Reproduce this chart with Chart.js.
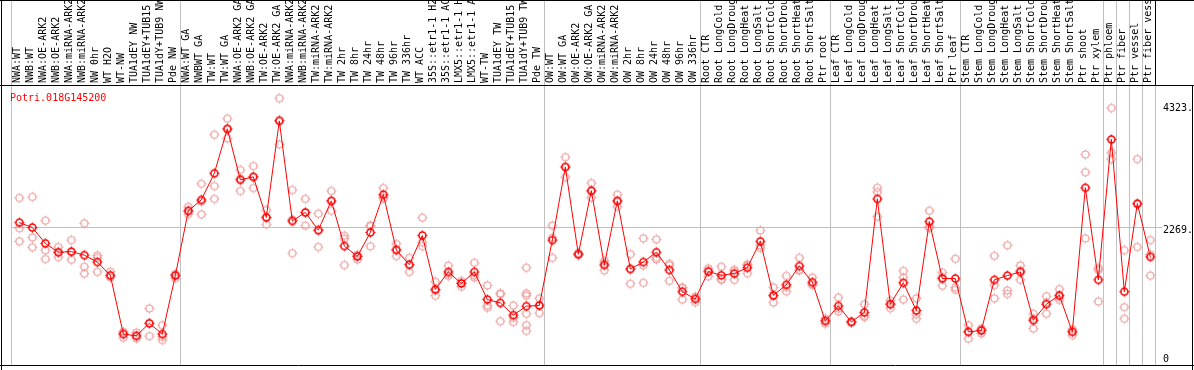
<!DOCTYPE html>
<html>
<head>
<meta charset="utf-8">
<script src="https://cdn.jsdelivr.net/npm/chart.js@4/dist/chart.umd.min.js"></script>
<style>
  html, body { margin: 0; padding: 0; background: #ffffff; }
  #wrap { width: 1194px; height: 370px; }
  canvas { display: block; }
</style>
</head>
<body>
<div id="wrap"><canvas id="c" width="1194" height="370"></canvas></div>
<script>
const geneTitle = 'Potri.018G145200';

const categories = [
  'NWA:WT','NWB:WT','NWA:OE-ARK2','NWB:OE-ARK2','NWA:miRNA-ARK2','NWB:miRNA-ARK2','NW 0hr','WT H2O','WT-NW',
  'TUA1dEY NW','TUA1dEY+TUB15 NW','TUA1dY+TUB9 NW','Pde NW',
  'NWA:WT GA','NWBWT GA','TW:WT','TW:WT GA','NWA:OE-ARK2 GA','NWB:OE-ARK2 GA','TW:OE-ARK2','TW:OE-ARK2 GA',
  'NWA:miRNA-ARK2 GA','NWB:miRNA-ARK2 GA','TW:miRNA-ARK2','TW:miRNA-ARK2 GA','TW 2hr','TW 8hr','TW 24hr','TW 48hr',
  'TW 96hr','TW 336hr','WT ACC','35S::etr1-1 H2O','35S::etr1-1 ACC','LMX5::etr1-1 H2O','LMX5::etr1-1 ACC','WT-TW',
  'TUA1dEY TW','TUA1dEY+TUB15 TW','TUA1dY+TUB9 TW','Pde TW',
  'OW:WT','OW:WT GA','OW:OE-ARK2','OW:OE-ARK2 GA','OW:miRNA-ARK2','OW:miRNA-ARK2 GA','OW 2hr','OW 8hr','OW 24hr',
  'OW 48hr','OW 96hr','OW 336hr',
  'Root CTR','Root LongCold','Root LongDrought','Root LongHeat','Root LongSalt','Root ShortCold','Root ShortDrought',
  'Root ShortHeat','Root ShortSalt','Ptr root',
  'Leaf CTR','Leaf LongCold','Leaf LongDrought','Leaf LongHeat','Leaf LongSalt','Leaf ShortCold','Leaf ShortDrought',
  'Leaf ShortHeat','Leaf ShortSalt','Ptr leaf',
  'Stem CTR','Stem LongCold','Stem LongDrought','Stem LongHeat','Stem LongSalt','Stem ShortCold','Stem ShortDrought',
  'Stem ShortHeat','Stem ShortSalt','Ptr shoot','Ptr xylem',
  'Ptr phloem','Ptr fiber','Ptr vessel','Ptr fiber vessel'
];

const groupSizes = [13, 28, 12, 10, 10, 11, 1, 1, 1, 1];

const meanValues = [
  2396,2313,2047,1898,1908,1848,1732,1510,520,492,702,520,1504,
  2595,2778,3226,3974,3115,3165,2484,4107,2423,2567,2268,2761,2002,1825,2230,2866,1936,1687,2180,1272,1566,1372,1566,1101,1045,840,990,1001,
  2102,3331,1865,2933,1682,2761,1616,1732,1898,1599,1234,1111,
  1571,1510,1538,1637,2081,1172,1350,1665,1393,741,
  995,724,885,2795,1023,1383,918,2413,1455,1455,
  558,580,1433,1504,1566,752,1023,1172,558,2982,1433,
  3796,1234,2717,1820
];

const rep1 = [
  2811,2828,2429,1986,2102,2384,1842,1571,558,546,951,669,1527,
  2662,3049,3874,4145,3281,3348,2606,4489,2944,2795,2545,2928,2174,1848,2346,2977,2036,1803,2479,1400,1671,1416,1720,1338,1205,1001,1637,1122,
  2346,3497,1886,3061,1749,2866,1865,2131,2114,1704,1300,1151,
  1626,1654,1599,1676,2263,1305,1499,1803,1471,779,
  1134,735,1023,2982,1084,1582,1122,2595,1554,1787,
  669,613,1837,2014,1676,862,1156,1277,602,3542,1599,
  4323,1931,3464,2102
];
const rep2 = [
  2301,2147,1931,1893,1900,1654,1803,1483,458,447,702,475,1460,
  2539,2534,3011,3813,2928,2977,2368,3713,1881,2346,1986,2595,2124,1775,1997,2800,1832,1566,1997,1167,1499,1317,1471,1001,736,724,1205,873,
  2141,3160,1848,2817,1593,2662,1367,1676,1775,1416,1101,1056,
  1493,1443,1433,1543,1969,1051,1239,1599,1360,696,
  902,713,807,2911,956,1471,779,2330,1333,1305,
  442,530,1344,1255,1433,613,862,1095,503,3243,1068,
  3569,973,1986,1858
];
const rep3 = [
  2081,1981,1782,1815,1770,1537,1566,1476,545,483,486,420,1525,
  2585,2751,2795,3964,3136,3170,2478,4119,2444,2560,2273,2760,1682,1852,2340,2821,1940,1692,2064,1249,1528,1383,1507,964,1194,795,1167,1008,
  1803,3336,1861,2921,1704,2755,1616,1383,1805,1677,1301,1126,
  1594,1433,1582,1692,2011,1160,1312,1593,1348,748,
  949,724,825,2496,1029,1101,853,2302,1478,1267,
  563,597,1122,1194,1589,781,1051,1144,569,2131,1632,
  3464,779,2701,1504
];
// extra replicates (only present for a few samples)
const rep4 = categories.map(() => null);
const rep5 = categories.map(() => null);
const rep6 = categories.map(() => null);
rep4[39] = 862; rep5[39] = 669; rep6[39] = 574;

const yTickValues = [4323, 2269, 0];
const yTickLabels = ['4323.', '2269.', '0'];
const midLineValue = 2328;

const RED = '#ff0000';
const PALE = '#ec9e9e';
const GRID = '#c0c0c0';
const FONT = '10px "DejaVu Sans Mono", "Liberation Mono", monospace';

function makeMarker(color, lw) {
  const c = document.createElement('canvas');
  c.width = 13; c.height = 13;
  const g = c.getContext('2d');
  g.strokeStyle = color;
  g.fillStyle = color;
  g.lineWidth = lw;
  g.beginPath();
  g.arc(6.5, 6.5, 3.5, 0, Math.PI * 2);
  g.stroke();
  // tiny tick marks just outside the ring
  g.fillRect(6, 1.5, 1, 1.5);
  g.fillRect(6, 10, 1, 1.5);
  g.fillRect(1.5, 6, 1.5, 1);
  g.fillRect(10, 6, 1.5, 1);
  return c;
}
const meanMarker = makeMarker(RED, 1.6);
const repMarker = makeMarker(PALE, 1.2);

const toPts = arr => arr.map((v, i) => (v === null ? null : { x: i, y: v })).filter(p => p !== null);

const repSets = [rep1, rep2, rep3, rep4, rep5, rep6].map(arr => ({
  data: toPts(arr),
  showLine: false,
  pointStyle: repMarker,
  pointRadius: 4,
  order: 2
}));

const decor = {
  id: 'decor',
  beforeDatasetsDraw(chart) {
    const ctx = chart.ctx;
    const xs = chart.scales.x, ys = chart.scales.y;
    const area = chart.chartArea;
    ctx.save();
    ctx.strokeStyle = GRID;
    ctx.lineWidth = 1;
    const yy = Math.round(ys.getPixelForValue(midLineValue)) + 0.5;
    ctx.beginPath();
    ctx.moveTo(area.left, yy); ctx.lineTo(area.right + 7, yy);
    ctx.stroke();
    let idx = 0;
    const bounds = [0];
    groupSizes.forEach(s => { idx += s; bounds.push(idx); });
    bounds.forEach(b => {
      const px = Math.round(xs.getPixelForValue(b - 0.64)) + 0.5;
      ctx.beginPath();
      ctx.moveTo(px, 0); ctx.lineTo(px, area.bottom);
      ctx.stroke();
    });
    ctx.restore();
  },
  afterDraw(chart) {
    const ctx = chart.ctx;
    const xs = chart.scales.x, ys = chart.scales.y;
    const area = chart.chartArea;
    const W = chart.width;
    ctx.save();
    ctx.strokeStyle = '#000';
    ctx.lineWidth = 1;
    ctx.beginPath();
    ctx.moveTo(1.5, 0); ctx.lineTo(1.5, 370);
    ctx.moveTo(0, 0.5); ctx.lineTo(W, 0.5);
    ctx.moveTo(0, 85.5); ctx.lineTo(W, 85.5);
    ctx.moveTo(0, Math.round(area.bottom) + 0.5); ctx.lineTo(W, Math.round(area.bottom) + 0.5);
    ctx.moveTo(1192.5, 85); ctx.lineTo(1192.5, 370);
    ctx.moveTo(1155.5, 0); ctx.lineTo(1155.5, 85);
    ctx.stroke();

    ctx.font = FONT;
    ctx.fillStyle = '#000';
    ctx.textAlign = 'left';
    ctx.textBaseline = 'middle';
    categories.forEach((lab, i) => {
      const px = xs.getPixelForValue(i) - 1.5;
      ctx.save();
      ctx.translate(px, 83);
      ctx.rotate(-Math.PI / 2);
      ctx.fillText(lab, 0, 0);
      ctx.restore();
    });

    ctx.fillStyle = RED;
    ctx.textBaseline = 'middle';
    ctx.fillText(geneTitle, 10, 98);

    ctx.fillStyle = '#000';
    yTickValues.forEach((v, k) => {
      let py = ys.getPixelForValue(v);
      py = Math.min(py, area.bottom - 6);
      ctx.fillText(yTickLabels[k], 1163, py);
    });
    ctx.restore();
  }
};

new Chart(document.getElementById('c'), {
  type: 'scatter',
  data: {
    datasets: [
      {
        data: toPts(meanValues),
        showLine: true,
        borderColor: RED,
        borderWidth: 1,
        pointStyle: meanMarker,
        pointRadius: 4,
        order: 0
      },
      ...repSets
    ]
  },
  options: {
    responsive: false,
    animation: false,
    devicePixelRatio: 1,
    layout: { padding: { left: 11, right: 39, top: 85, bottom: 2 } },
    plugins: { legend: { display: false }, tooltip: { enabled: false }, title: { display: false } },
    scales: {
      x: { type: 'linear', min: -0.64, max: 87.36, display: false },
      y: { type: 'linear', min: 0, max: 4711, display: false }
    }
  },
  plugins: [decor]
});
</script>
</body>
</html>
